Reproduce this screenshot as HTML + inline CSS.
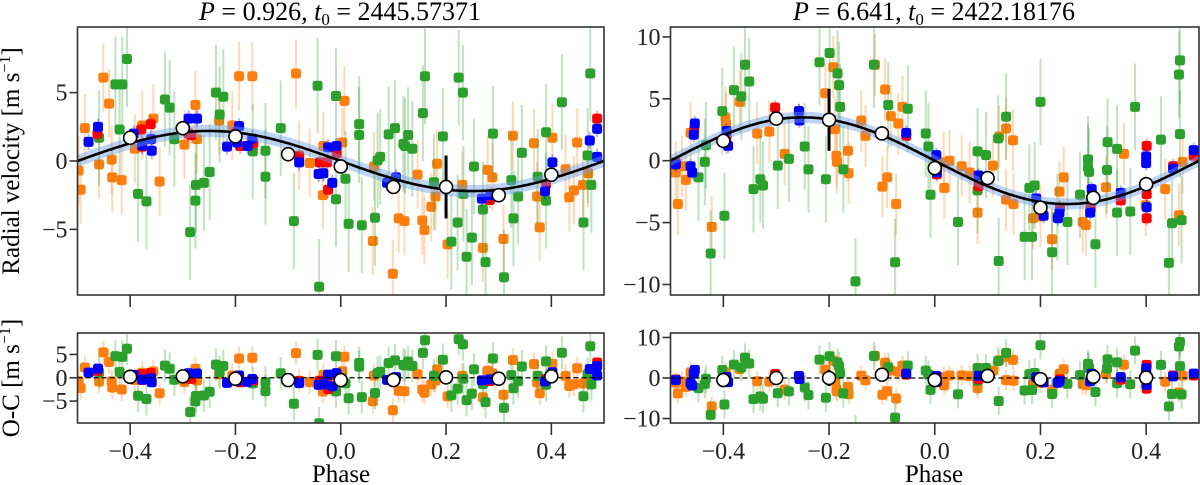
<!DOCTYPE html>
<html><head><meta charset="utf-8">
<style>
html,body{margin:0;padding:0;background:#fff;}
svg{display:block;font-family:"Liberation Serif","DejaVu Serif",serif;}
</style></head>
<body>
<svg id="chart" width="1200" height="485" viewBox="0 0 1200 485" xmlns="http://www.w3.org/2000/svg">
<rect x="0" y="0" width="1200" height="485" fill="#fff"/>
<text x="340" y="20" text-anchor="middle" font-size="26"><tspan font-style="italic">P</tspan> = 0.926, <tspan font-style="italic">t</tspan><tspan font-size="17" dy="5">0</tspan><tspan dy="-5"> = 2445.57371</tspan></text>
<text x="934" y="20" text-anchor="middle" font-size="26"><tspan font-style="italic">P</tspan> = 6.641, <tspan font-style="italic">t</tspan><tspan font-size="17" dy="5">0</tspan><tspan dy="-5"> = 2422.18176</tspan></text>
<text transform="translate(19,161) rotate(-90)" text-anchor="middle" font-size="25">Radial velocity [m s<tspan font-size="16" dy="-9">−1</tspan><tspan dy="9">]</tspan></text>
<text transform="translate(19,378) rotate(-90)" text-anchor="middle" font-size="25">O-C [m s<tspan font-size="16" dy="-9">−1</tspan><tspan dy="9">]</tspan></text>
<text x="341" y="482" text-anchor="middle" font-size="25">Phase</text>
<text x="934" y="482" text-anchor="middle" font-size="25">Phase</text>
</svg>
<script>
// ---------- data: left panel (P=0.926) ----------
const L_K = 2.2;
const L_green = [[-0.406,7.46],[-0.428,5.6],[-0.415,5.6],[-0.334,4.5],[-0.325,3.9],[-0.42,2.3],[-0.459,1.7],[-0.385,-2.4],[-0.369,-2.95],[-0.316,1.6],[-0.286,-5.2],[-0.275,-1.75],[-0.276,-2.9],[-0.26,-1.6],[-0.249,-0.8],[-0.237,5.0],[-0.223,4.7],[-0.23,3.4],[-0.167,0.7],[-0.143,0.75],[-0.143,-1.15],[-0.114,2.4],[-0.089,-4.4],[-0.044,5.5],[-0.041,-9.2],[-0.009,4.75],[-0.009,-2.8],[0.009,-1.3],[0.015,-4.6],[0.035,2.7],[0.035,1.9],[0.04,-4.7],[0.07,0.05],[0.075,0.3],[0.065,-4.15],[0.091,1.95],[0.103,2.4],[0.119,1.25],[0.128,1.9],[0.122,1.1],[0.136,0.9],[0.156,3.5],[0.16,6.2],[0.177,-1.55],[0.194,1.8],[0.21,-5.9],[0.222,-4.5],[0.224,6.1],[0.232,5.0],[0.233,-2.4],[0.249,-5.6],[0.239,-7.0],[0.253,-0.4],[0.27,-3.55],[0.275,-7.4],[0.289,2.0],[0.31,-8.5],[0.328,-4.2],[0.337,-2.6],[0.344,0.6],[0.324,-1.4],[0.374,-1.15],[0.39,-2.9],[0.39,2.1],[0.42,4.3],[0.461,-4.5],[0.469,0.4],[0.474,6.4],[0.476,-1.75]];
const L_orange = [[-0.498,-0.7],[-0.494,-2.1],[-0.486,2.4],[-0.451,6.1],[-0.44,4.2],[-0.459,-0.25],[-0.435,0.1],[-0.434,-1.2],[-0.416,-1.4],[-0.391,0.9],[-0.377,2.6],[-0.356,3.1],[-0.344,-1.5],[-0.297,1.2],[-0.276,4.1],[-0.273,1.6],[-0.231,2.95],[-0.206,2.6],[-0.193,6.2],[-0.168,6.2],[-0.085,6.4],[-0.079,0.4],[-0.059,-0.15],[-0.034,-2.5],[-0.033,1.1],[0.003,1.35],[0.007,4.4],[0.063,-0.4],[0.061,-5.85],[0.099,-8.25],[0.11,-4.2],[0.121,-4.4],[0.146,-1.0],[0.155,-4.35],[0.159,-5.05],[0.172,-3.35],[0.18,-2.6],[0.183,-0.2],[0.203,-6.1],[0.231,-1.75],[0.27,-6.35],[0.279,-0.65],[0.288,-1.2],[0.309,-5.7],[0.327,1.85],[0.367,1.3],[0.373,-2.6],[0.378,-4.85],[0.402,1.7],[0.427,-0.6],[0.434,-2.65],[0.443,-2.15],[0.449,1.35],[0.46,-1.75],[0.47,-0.9]];
const L_red = [[-0.462,2.0],[-0.379,2.3],[-0.361,2.7],[-0.377,1.05],[-0.289,2.0],[-0.284,1.9],[-0.199,2.1],[-0.191,1.1],[-0.166,1.3],[-0.079,0.35],[-0.04,-0.1],[-0.026,-0.1],[-0.024,-2.1],[-0.008,0.55],[0.39,-1.7],[0.487,3.1],[0.283,-2.85],[0.095,-1.7]];
const L_blue = [[-0.479,1.4],[-0.461,2.5],[-0.393,2.0],[-0.377,1.15],[-0.359,0.75],[-0.36,1.6],[-0.289,3.1],[-0.273,3.1],[-0.216,1.05],[-0.193,2.55],[-0.197,1.35],[-0.177,1.1],[-0.168,1.65],[-0.079,-0.1],[-0.042,-0.95],[-0.033,-0.9],[-0.024,1.0],[-0.016,-1.6],[-0.008,1.1],[0.088,-1.6],[0.105,-1.2],[0.268,-2.75],[0.284,-2.5],[0.388,-2.2],[0.402,-0.1],[0.473,1.5],[0.487,2.35],[0.487,0.3]];
const L_binPhase = [-0.4,-0.3,-0.2,-0.1,0,0.1,0.2,0.3,0.4];
const L_binRV = [1.7,2.4,1.8,0.5,-0.4,-1.9,-1.9,-2.5,-1.0];
const L_binErr = [0.3,0.3,0.3,0.4,0.3,0.4,2.3,0.4,0.5];
const L_binOC = [0.2,0.3,-0.2,-0.5,-0.5,-0.5,0.1,-0.2,0.3];
// ---------- data: right panel (P=6.641) ----------
const R_K = 3.5;
const R_green = [[-0.402,4.0],[-0.398,-4.45],[-0.424,-7.5],[-0.435,-0.1],[-0.447,-1.35],[-0.433,1.25],[-0.38,5.7],[-0.366,5.2],[-0.359,7.75],[-0.351,6.4],[-0.343,-2.3],[-0.33,-1.5],[-0.325,-2.0],[-0.297,-0.4],[-0.276,0.15],[-0.246,1.15],[-0.239,-0.7],[-0.218,7.95],[-0.199,8.7],[-0.206,-1.5],[-0.184,7.05],[-0.181,6.1],[-0.179,4.35],[-0.173,-0.7],[-0.15,-9.75],[-0.115,7.75],[-0.088,4.5],[-0.075,-8.2],[-0.051,4.2],[-0.017,2.2],[-0.012,1.15],[-0.008,-2.75],[0.044,-4.95],[0.081,0.75],[0.097,0.45],[0.081,-2.4],[0.12,1.8],[0.121,-8.1],[0.135,3.55],[0.17,-6.15],[0.184,-6.15],[0.179,-2.2],[0.189,-2.0],[0.2,4.75],[0.222,-7.4],[0.232,-4.55],[0.251,-4.95],[0.275,-2.75],[0.29,0.1],[0.29,-0.55],[0.292,-0.9],[0.304,-6.75],[0.326,-0.75],[0.327,1.5],[0.345,0.95],[0.345,-4.2],[0.37,-4.1],[0.379,4.35],[0.428,1.7],[0.443,-8.25],[0.449,-5.05],[0.464,8.1],[0.462,6.95],[0.464,2.15],[0.467,-4.8]];
const R_orange = [[-0.49,-0.95],[-0.486,-3.5],[-0.478,-0.45],[-0.471,-1.55],[-0.462,2.25],[-0.422,-5.35],[-0.396,3.5],[-0.395,3.0],[-0.369,4.75],[-0.336,2.2],[-0.313,2.35],[-0.284,0.55],[-0.207,5.45],[-0.192,7.55],[-0.189,2.55],[-0.186,0.4],[-0.185,-0.1],[-0.164,0.8],[-0.163,-1.0],[-0.139,3.25],[-0.131,2.0],[-0.113,7.75],[-0.099,-2.1],[-0.094,5.75],[-0.09,-1.35],[-0.083,3.6],[-0.073,-3.5],[-0.069,3.0],[-0.061,4.35],[0.017,-0.15],[0.028,0.0],[0.018,-2.2],[0.051,-0.45],[0.066,-0.95],[0.081,-4.2],[0.11,-0.4],[0.122,1.95],[0.135,2.6],[0.148,1.65],[0.135,-3.15],[0.149,-3.5],[0.186,-4.65],[0.2,-4.5],[0.222,-6.35],[0.236,-2.5],[0.244,-1.35],[0.28,-4.95],[0.286,-5.2],[0.324,-2.15],[0.358,0.55],[0.399,-3.6],[0.436,-2.3],[0.462,-4.4],[0.469,-0.1]];
const R_red = [[-0.49,-0.15],[-0.455,2.5],[-0.394,2.0],[-0.302,4.3],[-0.257,4.0],[-0.054,2.0],[0.004,-1.1],[0.083,-2.05],[0.202,-4.0],[0.237,-3.8],[0.295,-3.85],[0.352,-3.2],[0.401,1.2],[0.401,-2.7],[0.401,-4.65],[0.451,-0.45],[0.49,0.4]];
const R_blue = [[-0.49,-0.3],[-0.462,-0.45],[-0.459,-0.95],[-0.454,3.0],[-0.456,2.1],[-0.394,2.4],[-0.391,1.2],[-0.3,3.55],[-0.257,4.0],[-0.256,3.25],[-0.054,2.25],[0.003,0.45],[0.004,-0.95],[0.083,-1.2],[0.192,-3.05],[0.206,-4.45],[0.233,-4.65],[0.236,-4.2],[0.297,-2.3],[0.294,-4.2],[0.352,-2.6],[0.4,0.35],[0.4,-0.2],[0.401,-3.75],[0.451,-0.65],[0.49,0.85]];
const R_binPhase = [-0.4,-0.3,-0.2,-0.1,0,0.1,0.2,0.3,0.4];
const R_binRV = [1.6,3.4,3.3,2.2,-0.6,-1.4,-3.8,-3.0,-1.9];
const R_binErr = [0.4,0.3,2.5,0.3,0.3,0.4,0.4,0.4,0.4];
const R_binOC = [-0.5,0,0,0.8,-0.5,0.5,-0.3,0.3,0.1];
const xTicks = [-0.4,-0.2,0.0,0.2,0.4];
const xTickLabels = ["−0.4","−0.2","0.0","0.2","0.4"];
const L_yTicks = [5,0,-5];
const L_ocTicks = [5,0,-5];
const R_yTicks = [10,5,0,-5,-10];
const R_ocTicks = [10,0,-10];

const NS = "http://www.w3.org/2000/svg";
const svg = document.getElementById('chart');
function el(tag, attrs, parent){
  const e = document.createElementNS(NS, tag);
  for (const k in attrs) e.setAttribute(k, attrs[k]);
  (parent||svg).appendChild(e);
  return e;
}
const COL = {green:'#2ca02c', orange:'#ff7f0e', red:'#ff0000', blue:'#0000ff'};
const ERR = {green:3.5, orange:2.5, red:0.6, blue:0.6};

function panel(cfg){
  const {name, x0, x1, top, bottom, ymin, ymax, K, series, binP, binV, binE, yTicks, isOC, showXLabels} = cfg;
  const xs = p => x0 + (p + 0.5) / 1.0 * (x1 - x0);
  const ys = v => top + (ymax - v) / (ymax - ymin) * (bottom - top);
  const model = p => -K * Math.sin(2 * Math.PI * p);
  const g = el('g', {});
  
  
  const cid = 'clip-' + name;
  const cp = el('clipPath', {id: cid}, g);
  el('rect', {x: x0, y: top, width: x1 - x0, height: bottom - top}, cp);
  const plot = el('g', {'clip-path': 'url(#' + cid + ')'}, g);
  for (const s of series) {
    const sg = el('g', {}, plot);
    
    
    for (const [p, v0] of s.data) {
      const v = isOC ? v0 - model(p) : v0;
      const e = ERR[s.key];
      el('line', {x1: xs(p), x2: xs(p), y1: ys(v + e), y2: ys(v - e), stroke: COL[s.key], 'stroke-width': 2, 'stroke-opacity': 0.3}, sg);
    }
    for (const [p, v0] of s.data) {
      const v = isOC ? v0 - model(p) : v0;
      const r = el('rect', {x: xs(p) - 5, y: ys(v) - 5, width: 10, height: 10, rx: 2.5, fill: COL[s.key]}, sg);
      
      
    }
  }
  if (!isOC) {
    let up = '', dn = '', line = '';
    const N = 200;
    const pts = [];
    for (let i = 0; i <= N; i++) pts.push(-0.5 + i / N);
    pts.forEach((p, i) => { line += (i ? 'L' : 'M') + xs(p).toFixed(1) + ',' + ys(model(p)).toFixed(1); });
    pts.forEach((p, i) => { up += (i ? 'L' : 'M') + xs(p).toFixed(1) + ',' + ys(model(p) + 0.45).toFixed(1); });
    pts.slice().reverse().forEach(p => { dn += 'L' + xs(p).toFixed(1) + ',' + ys(model(p) - 0.45).toFixed(1); });
    const band = el('path', {d: up + dn + 'Z', fill: '#6fa0e8', 'fill-opacity': 0.45}, plot);
    
    
    const c = el('path', {d: line, fill: 'none', stroke: '#000', 'stroke-width': 2.6}, plot);
    
    
  } else {
    const z = el('line', {x1: x0, x2: x1, y1: ys(0), y2: ys(0), stroke: '#000', 'stroke-width': 1.2, 'stroke-dasharray': '5,3'}, plot);
    
    
  }
  binP.forEach((p, i) => {
    const v = binV[i];
    el('line', {x1: xs(p), x2: xs(p), y1: ys(v + binE[i]), y2: ys(v - binE[i]), stroke: '#000', 'stroke-width': 3}, plot);
    const c = el('circle', {cx: xs(p), cy: ys(v), r: 6.5, fill: '#fff', stroke: '#000', 'stroke-width': 1.6}, plot);
    
    
  });
  const fr = el('rect', {x: x0, y: top, width: x1 - x0, height: bottom - top, fill: 'none', stroke: '#333', 'stroke-width': 1.6}, g);
  
  
  yTicks.forEach(t => {
    el('line', {x1: x0 - 8, x2: x0, y1: ys(t), y2: ys(t), stroke: '#333', 'stroke-width': 1.6}, g);
    const tx = el('text', {x: x0 - 10, y: ys(t) + 8, 'text-anchor': 'end', 'font-size': 24, fill: '#222'}, g);
    tx.textContent = t < 0 ? '−' + Math.abs(t) : String(t);
    
    
  });
  xTicks.forEach((t, i) => {
    el('line', {x1: xs(t), x2: xs(t), y1: bottom, y2: bottom + 12, stroke: '#333', 'stroke-width': 1.6}, g);
    if (showXLabels) {
      const tx = el('text', {x: xs(t), y: bottom + 36, 'text-anchor': 'middle', 'font-size': 24, fill: '#222'}, g);
      tx.textContent = xTickLabels[i];
      
      
    }
  });
}

const Lser = [{key:'orange',data:L_orange},{key:'green',data:L_green},{key:'red',data:L_red},{key:'blue',data:L_blue}];
const Rser = [{key:'orange',data:R_orange},{key:'green',data:R_green},{key:'red',data:R_red},{key:'blue',data:R_blue}];

panel({name:'left-rv-panel', x0:77.5, x1:604, top:27, bottom:295, ymin:-9.8, ymax:9.8, K:L_K, series:Lser, binP:L_binPhase, binV:L_binRV, binE:L_binErr, yTicks:L_yTicks, isOC:false, showXLabels:false});
panel({name:'left-oc-panel', x0:77.5, x1:604, top:333, bottom:423, ymin:-9.7, ymax:9.6, K:L_K, series:Lser, binP:L_binPhase, binV:L_binOC, binE:L_binErr.map(e=>Math.min(e,1.2)), yTicks:L_ocTicks, isOC:true, showXLabels:true});
panel({name:'right-rv-panel', x0:670.5, x1:1199, top:27, bottom:295, ymin:-10.85, ymax:10.8, K:R_K, series:Rser, binP:R_binPhase, binV:R_binRV, binE:R_binErr, yTicks:R_yTicks, isOC:false, showXLabels:false});
panel({name:'right-oc-panel', x0:670.5, x1:1199, top:333, bottom:423, ymin:-11.1, ymax:11.1, K:R_K, series:Rser, binP:R_binPhase, binV:R_binOC, binE:R_binErr.map(e=>Math.min(e,2)), yTicks:R_ocTicks, isOC:true, showXLabels:true});
</script>
</body></html>
